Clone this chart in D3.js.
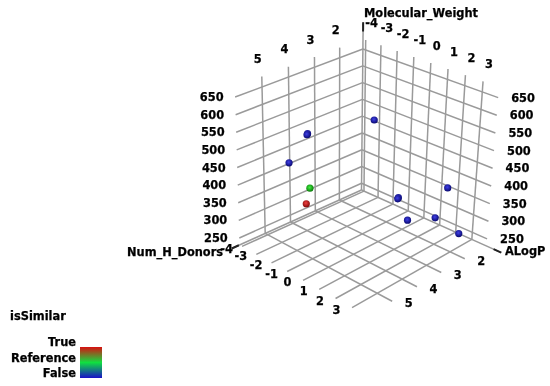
<!DOCTYPE html>
<html>
<head>
<meta charset="utf-8">
<script src="https://cdn.jsdelivr.net/npm/d3@7"></script>
<style>
  html, body { margin: 0; padding: 0; background: #fff; }
  svg { display: block; filter: blur(0.35px); }
  text { font-family: "DejaVu Sans", sans-serif; font-weight: bold; font-size: 11.4px; fill: #000; stroke: #000; stroke-width: 0.25px; }
</style>
</head>
<body>
<div id="chart"></div>
<script>
// axis ticks
let donorTicks = [2, 3, 4, 5];
let alogpTicks = [-4, -3, -2, -1, 0, 1, 2, 3];
let weightTicks = [250, 300, 350, 400, 450, 500, 550, 600, 650];

// points
let numHDonors = [4, 4, 5, 4, 4, 2, 2, 2, 2, 2, 2, 2];
let alogp = [-2.93, -2.97, -2.45, -2.8, -3.05, -1.9, -0.28, -0.32, 2.65, 0.33, 2.0, 3.45];
let molecularWeight = [510, 506, 468, 356, 306, 508, 315, 311, 403, 263, 305, 291];
let isSimilar = ['False', 'False', 'False', 'Reference', 'True', 'False', 'False', 'False', 'False', 'False', 'False', 'False'];

let legendLabels = ['True', 'Reference', 'False'];
let legendColors = ['#d81010', '#10e040', '#1a10c8'];

let width = 550;
let height = 386;

// the box as it lands on the screen: [d, a] corners, floor and ceiling
let floorCorners = { back: [361.5, 190], left: [239.5, 245], right: [486.5, 246], front: [367, 316] };
let topCorners = { back: [363, 39], left: [234.8, 86.5], right: [499, 87], front: [367, 148] };

let dScale = d3.scaleLinear().domain([1, 6]).range([0, 1]);
let aScale = d3.scaleLinear().domain([-4.2, 3.9]).range([0, 1]);
let zScale = d3.scaleLinear().domain([230, 680]).range([0, 1]);

// slight foreshortening along both floor axes
let perspective = (t) => Math.pow(t, 1.06);

function mix(p, q, t) {
  return [p[0] + (q[0] - p[0]) * t, p[1] + (q[1] - p[1]) * t];
}

function project(d, a, z) {
  let u = perspective(dScale(d));
  let v = perspective(aScale(a));
  let w = zScale(z);
  let bottom = mix(
    mix(floorCorners.back, floorCorners.right, v),
    mix(floorCorners.left, floorCorners.front, v),
    u
  );
  let top = mix(
    mix(topCorners.back, topCorners.right, v),
    mix(topCorners.left, topCorners.front, v),
    u
  );
  return mix(bottom, top, w);
}

let dMin = dScale.domain()[0];
let dMax = dScale.domain()[1];
let aMin = aScale.domain()[0];
let aMax = aScale.domain()[1];
let zMin = zScale.domain()[0];
let zMax = zScale.domain()[1];

let svg = d3
  .select('#chart')
  .append('svg')
  .attr('width', width)
  .attr('height', height);

let defs = svg.append('defs');

let colour = d3
  .scaleOrdinal()
  .domain(legendLabels)
  .range(legendColors);

// shaded balls
let ballShades = { True: ['#f04040', '#800808'], Reference: ['#40f040', '#087808'], False: ['#4040e8', '#08086e'] };

legendLabels.forEach((label) => {
  let grad = defs
    .append('radialGradient')
    .attr('id', 'ball-' + label)
    .attr('cx', '45%')
    .attr('cy', '40%')
    .attr('r', '60%');
  grad.append('stop').attr('offset', '0%').attr('stop-color', ballShades[label][0]);
  grad.append('stop').attr('offset', '100%').attr('stop-color', ballShades[label][1]);
});

let legendGrad = defs
  .append('linearGradient')
  .attr('id', 'legend-ramp')
  .attr('x1', 0)
  .attr('y1', 0)
  .attr('x2', 0)
  .attr('y2', 1);

legendLabels.forEach((label, i) => {
  legendGrad
    .append('stop')
    .attr('offset', i / (legendLabels.length - 1))
    .attr('stop-color', colour(label));
});

let grid = svg
  .append('g')
  .attr('fill', 'none')
  .attr('stroke', '#9a9a9a')
  .attr('stroke-width', 1.5);

function gridLine(from, to) {
  grid
    .append('line')
    .attr('x1', from[0])
    .attr('y1', from[1])
    .attr('x2', to[0])
    .attr('y2', to[1]);
}

// back walls
weightTicks.forEach((z) => {
  gridLine(project(dMin, aMin, z), project(dMax, aMin, z));
  gridLine(project(dMin, aMin, z), project(dMin, aMax, z));
});
donorTicks.forEach((d) => gridLine(project(d, aMin, zMin), project(d, aMin, zMax)));
alogpTicks.forEach((a) => gridLine(project(dMin, a, zMin), project(dMin, a, zMax)));

// floor
donorTicks.forEach((d) => gridLine(project(d, aMin, zMin), project(d, aMax, zMin)));
alogpTicks.forEach((a) => gridLine(project(dMin, a, zMin), project(dMax, a, zMin)));

// axes with their heads
let tipD = project(6.3, aMin, zMin);
let tipA = project(dMin, 4.8, zMin);
let tipZ = project(dMin, aMin, 730);
let origin = project(dMin, aMin, zMin);

gridLine(origin, tipD);
gridLine(origin, tipA);
gridLine(origin, tipZ);

[tipD, tipA, tipZ].forEach((tip) => {
  svg
    .append('line')
    .attr('x1', tip[0])
    .attr('y1', tip[1])
    .attr('x2', tip[0] + (origin[0] - tip[0]) * 0.055)
    .attr('y2', tip[1] + (origin[1] - tip[1]) * 0.055)
    .attr('stroke', '#222')
    .attr('stroke-width', 2);
});

// balls
d3.range(alogp.length).forEach((i) => {
  let p = project(numHDonors[i], alogp[i], molecularWeight[i]);
  svg
    .append('circle')
    .attr('cx', p[0])
    .attr('cy', p[1])
    .attr('r', 3.6)
    .attr('fill', 'url(#ball-' + isSimilar[i] + ')');
});

function label(str, x, y, anchor) {
  svg
    .append('text')
    .attr('x', x)
    .attr('y', y)
    .attr('dy', '0.36em')
    .attr('text-anchor', anchor || 'middle')
    .text(str);
}

// tick labels
weightTicks.forEach((z) => {
  let l = project(dMax, aMin, z);
  let r = project(dMin, aMax, z);
  label(z, l[0] - 11.5, l[1], 'end');
  label(z, r[0] + 13, r[1], 'start');
});
donorTicks.forEach((d) => {
  let top = project(d, aMin, zMax);
  let bottom = project(d, aMax, zMin);
  label(d, top[0] - 4, top[1] - 17.5);
  label(d, bottom[0] + 16.5, bottom[1] + 2);
});
alogpTicks.forEach((a) => {
  let top = project(dMin, a, zMax);
  let bottom = project(dMax, a, zMin);
  label(a, top[0] + 6, top[1] - 17);
  label(a, bottom[0] - 15.5, bottom[1] + 2);
});

// axis titles
label('Molecular_Weight', 364, 12.5, 'start');
label('Num_H_Donors', 127, 251.7, 'start');
label('ALogP', 505, 250.7, 'start');

// legend
label('isSimilar', 10, 316, 'start');

let legendY = d3
  .scalePoint()
  .domain(legendLabels)
  .range([342, 373]);

legendLabels.forEach((d) => label(d, 76, legendY(d), 'end'));

svg
  .append('rect')
  .attr('x', 80)
  .attr('y', 347)
  .attr('width', 22)
  .attr('height', 31)
  .attr('fill', 'url(#legend-ramp)');
</script>
</body>
</html>
